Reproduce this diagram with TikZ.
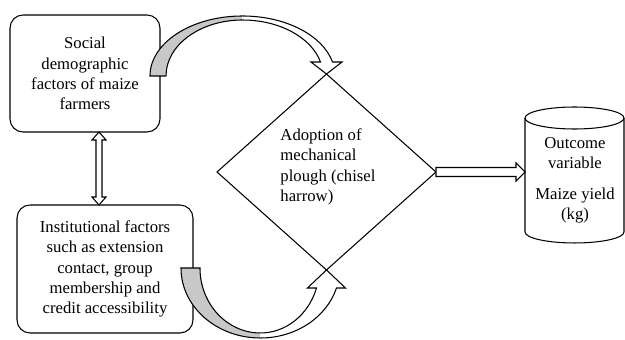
\documentclass[tikz,border=0pt]{standalone}
\usepackage{fontspec}
\setmainfont{Liberation Serif}
\usetikzlibrary{shapes.geometric,calc}
\definecolor{arrowgray}{RGB}{200,200,200}

\begin{document}
\begin{tikzpicture}[x=0.02cm,y=0.02cm,line width=0.6pt,
  factor/.style={draw,rounded corners=0.26cm,align=center,inner sep=0,outer sep=0},
  blockarrow/.style={draw,fill=white,line join=miter},
  backside/.style={draw,fill=arrowgray}]
\tikzstyle{every node}=[font=\rmfamily\fontsize{9.5}{11.5}\selectfont];
\useasboundingbox (0,0) rectangle (625,340);
\node[factor,minimum width=3cm,minimum height=2.34cm] (social) at (85,266.5) {Social\\demographic\\factors of maize\\farmers};
\node[factor,minimum width=3.52cm,minimum height=2.56cm] (inst) at (105,71) {Institutional factors\\such as extension\\contact, group\\membership and\\credit accessibility};
\node[draw,diamond,minimum width=4.38cm,minimum height=3.92cm,inner sep=0,outer sep=0] (plough) at (326.5,168) {};
\node[align=left] (ploughtext) at (328,173) {Adoption of\\mechanical\\plough (chisel\\harrow)};
\node[minimum width=1.98cm,minimum height=2.28cm,inner sep=0,outer sep=0] (ycyl) at (574.5,165) {};
\draw (ycyl.north west) -- (ycyl.south west) arc[start angle=180,end angle=360,x radius=49.5,y radius=11] -- (ycyl.north east);
\draw (ycyl.north) ellipse[x radius=49.5,y radius=11];
\node[align=center] (yield) at (575,160) {Outcome\\variable\\[6pt]Maize yield\\(kg)};
% two-way link between the factor boxes
\coordinate (linktop) at ($(social.south)+(14,0)$);
\draw[blockarrow] (linktop) -- ++(7,-8) -- ++(-4,0) -- ($(linktop |- inst.north)+(3,8)$) -- ++(4,0) -- (linktop |- inst.north)
  -- ++(-7,8) -- ++(4,0) -- ($(linktop)+(-3,-8)$) -- ++(-4,0) -- cycle;
% bent arrows into the adoption decision (left open so the seam is not stroked)
\draw[backside] ($(social.east)+(82.53,53.5)$) arc[start angle=90,end angle=180,x radius=76.53,y radius=56]
  -- ++(-16,0) arc[start angle=180,end angle=90,x radius=92.53,y radius=60];
\draw[blockarrow] ($(social.east)+(82.53,57.5)$) arc[start angle=90,end angle=13.49,x radius=92.53,y radius=60]
  -- ++(9.5,0) -- (plough.north) -- ++(-15.5,12) -- ++(9.5,0)
  arc[start angle=14.48,end angle=90,x radius=80.53,y radius=56];
\draw[backside] ($(inst.east)+(67.41,-64)$) arc[start angle=270,end angle=180,x radius=60.41,y radius=65]
  -- ++(-19,0) arc[start angle=180,end angle=270,x radius=79.41,y radius=70];
\draw[blockarrow] ($(inst.east)+(67.41,-69)$) arc[start angle=270,end angle=343.40,x radius=79.41,y radius=70]
  -- ++(9,0) -- (plough.south) -- ++(-19,-18) -- ++(9,0)
  arc[start angle=342.08,end angle=270,x radius=58.95,y radius=65];
% outcome
\draw[blockarrow] ($(plough.east)+(0,4.5)$) -- ($(plough.east -| ycyl.west)+(-9,4.5)$) -- ++(0,4.5) -- (plough.east -| ycyl.west)
  -- ++(-9,-9) -- ++(0,4.5) -- ($(plough.east)+(0,-4.5)$) -- cycle;
\end{tikzpicture}
\end{document}
